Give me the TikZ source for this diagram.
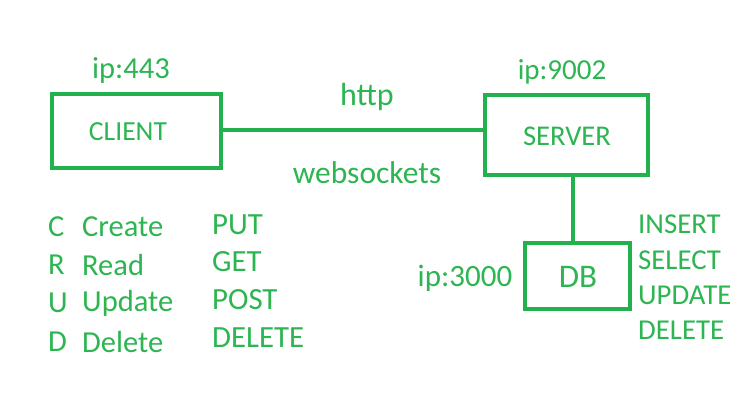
\documentclass[tikz,border=0pt]{standalone}
\usepackage{fontspec}
\setmainfont{Carlito}
\definecolor{grn}{HTML}{22B14C}
\definecolor{txt}{HTML}{2DB552}
\tikzset{
  box/.style={draw=grn, line width=4pt, minimum width=#1, inner sep=0pt},
  lbl/.style={text=txt, font=\fontsize{#1}{#1}\selectfont, inner sep=0pt},
  lbl/.default=30,
  wire/.style={draw=grn, line width=4pt}
}
\begin{document}
\begin{tikzpicture}[x=1pt,y=-1pt]
\useasboundingbox[fill=white] (0,0) rectangle (748,400);
% boxes
\node[box=169pt, minimum height=74pt] (client) at (136.5,131) {};
\node[box=163pt, minimum height=80pt] (server) at (566.5,135) {};
\node[box=105pt, minimum height=66pt] (db) at (577.5,276) {};
% box texts
\node[lbl=27.6] (tclient) at (128,132) {CLIENT};
\node[lbl=28.6] (tserver) at (567,136) {SERVER};
\node[lbl=33] (tdb) at (578,277) {DB};
% ip labels
\node[lbl=30.5] (ip1) at (131,70) {ip:443};
\node[lbl=29] (ip2) at (562,72) {ip:9002};
\node[lbl=31] (ip3) at (465,278) {ip:3000};
% connector labels
\node[lbl=32] (http) at (367,97) {http};
\node[lbl=31.5] (ws) at (367,173) {websockets};
% connectors
\draw[wire] (client.east |- 0,130) -- (server.west |- 0,130);
\draw[wire] (server.south -| 573,0) -- (db.north -| 573,0);
% CRUD
\node[lbl=30.5, anchor=west] (c) at (48,227) {C};
\node[lbl=30.5, anchor=west] (r) at (48,265) {R};
\node[lbl=30.5, anchor=west] (u) at (48,303) {U};
\node[lbl=30.5, anchor=west] (d) at (48,342) {D};
\node[lbl=30.5, anchor=west] (create) at (82,227) {Create};
\node[lbl=30.5, anchor=west] (read) at (82,265) {Read};
\node[lbl=30.5, anchor=west] (update) at (82,303) {Update};
\node[lbl=30.5, anchor=west] (delete) at (82,342) {Delete};
\node[lbl=30.8, anchor=west] (put) at (212,225) {PUT};
\node[lbl=30.8, anchor=west] (get) at (212,262) {GET};
\node[lbl=30.8, anchor=west] (post) at (212,300) {POST};
\node[lbl=30.8, anchor=west] (hdel) at (212,338) {DELETE};
% SQL
\node[lbl=28.8, anchor=west] (ins) at (638,224) {INSERT};
\node[lbl=28.8, anchor=west] (sel) at (638,260) {SELECT};
\node[lbl=28.8, anchor=west] (upd) at (638,295) {UPDATE};
\node[lbl=28.8, anchor=west] (sdel) at (638,330) {DELETE};
\end{tikzpicture}
\end{document}
